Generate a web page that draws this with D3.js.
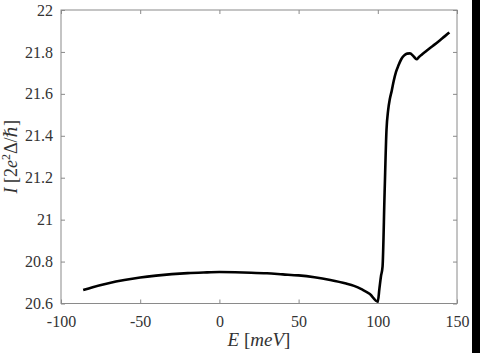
<!DOCTYPE html>
<html>
<head>
<meta charset="utf-8">
<script src="https://cdn.jsdelivr.net/npm/d3@7"></script>
<style>
  body { margin: 0; background: #fff; }
  svg { display: block; }
  text { font-family: "Times New Roman", "Liberation Serif", Tinos, "DejaVu Serif", serif; }
</style>
</head>
<body>
<svg id="chart" width="480" height="353"></svg>
<script>
// energy (meV) and current (2e^2 Delta / hbar)
const energy = [-86, -80, -70, -60, -50, -40, -30, -20, -10, 0, 10, 20, 30, 40, 50, 60, 70, 80, 85, 90, 95, 100,
  101, 102, 103, 104.3, 105.5, 106.5, 107.6, 108.8, 110, 111.5, 113, 114.8, 116.5, 118.5, 120.3, 122.4, 124.5,
  126, 127.7, 130, 133, 136, 139.3, 142, 145.2];
const current = [20.664, 20.678, 20.697, 20.712, 20.724, 20.733, 20.740, 20.745, 20.748, 20.750, 20.749, 20.747,
  20.744, 20.739, 20.734, 20.725, 20.712, 20.695, 20.684, 20.667, 20.645, 20.609,
  20.67, 20.73, 20.776, 21.13, 21.43, 21.52, 21.575, 21.615, 21.66, 21.705, 21.735, 21.765, 21.782, 21.792, 21.793,
  21.781, 21.765, 21.776, 21.787, 21.801, 21.819, 21.836, 21.856, 21.873, 21.893];

const xTicks = [-100, -50, 0, 50, 100, 150];
const yTicks = [20.6, 20.8, 21, 21.2, 21.4, 21.6, 21.8, 22];

const serif = "\"Times New Roman\", \"Liberation Serif\", Tinos, \"DejaVu Serif\", serif";
const svg = d3.select("#chart");
const mLeft = 61, mRight = 457, mTop = 10, mBottom = 303.5;

const x = d3.scaleLinear().domain([-100, 150]).range([mLeft, mRight]);
const y = d3.scaleLinear().domain([20.6, 22]).range([mBottom, mTop]);

const axisColor = "#8a8a8a";
const labelColor = "#333";

// frame
svg.append("rect")
  .attr("x", mLeft).attr("y", mTop)
  .attr("width", mRight - mLeft).attr("height", mBottom - mTop)
  .attr("fill", "none").attr("stroke", axisColor).attr("stroke-width", 1);

const tl = 4;
const fmt = d => String(d);
const xb = svg.append("g").attr("transform", `translate(0,${mBottom})`)
  .call(d3.axisBottom(x).tickValues(xTicks).tickSizeInner(-tl).tickSizeOuter(0).tickPadding(12).tickFormat(fmt));
const xt = svg.append("g").attr("transform", `translate(0,${mTop})`)
  .call(d3.axisTop(x).tickValues(xTicks).tickSizeInner(-tl).tickSizeOuter(0).tickFormat(""));
const yl = svg.append("g").attr("transform", `translate(${mLeft},0)`)
  .call(d3.axisLeft(y).tickValues(yTicks).tickSizeInner(-tl).tickSizeOuter(0).tickPadding(8).tickFormat(fmt));
const yr = svg.append("g").attr("transform", `translate(${mRight},0)`)
  .call(d3.axisRight(y).tickValues(yTicks).tickSizeInner(-tl).tickSizeOuter(0).tickFormat(""));

[xb, xt, yl, yr].forEach(g => {
  g.attr("font-family", null);
  g.select(".domain").remove();
  g.selectAll(".tick line").attr("stroke", axisColor);
  g.selectAll(".tick text").attr("fill", labelColor)
    .attr("font-family", serif).style("font-size", "16px");
});

// curve
const pts = energy.map((e, i) => [e, current[i]]);
svg.append("path")
  .datum(pts)
  .attr("fill", "none")
  .attr("stroke", "#000")
  .attr("stroke-width", 2.6)
  .attr("stroke-linejoin", "round")
  .attr("d", d3.line().x(d => x(d[0])).y(d => y(d[1])).curve(d3.curveMonotoneX));

// x title
const xTitle = svg.append("text")
  .attr("x", (mLeft + mRight) / 2).attr("y", 346)
  .attr("text-anchor", "middle").attr("fill", labelColor)
  .style("font-size", "19px");
xTitle.append("tspan").attr("font-style", "italic").text("E");
xTitle.append("tspan").text(" [");
xTitle.append("tspan").attr("font-style", "italic").text("meV");
xTitle.append("tspan").text("]");

// y title
const yTitle = svg.append("text")
  .attr("transform", `translate(17,${(mTop + mBottom) / 2}) rotate(-90)`)
  .attr("text-anchor", "middle").attr("fill", labelColor)
  .style("font-size", "18px");
yTitle.append("tspan").attr("font-style", "italic").text("I");
yTitle.append("tspan").text(" [2");
yTitle.append("tspan").attr("font-style", "italic").text("e");
yTitle.append("tspan").style("font-size", "12px").attr("dy", -7).text("2");
yTitle.append("tspan").attr("dy", 7).text("Δ/");
yTitle.append("tspan").attr("font-style", "italic").text("ℏ");
yTitle.append("tspan").text("]");

// dark strip at the right edge of the picture
svg.append("rect").attr("x", 472).attr("y", 0).attr("width", 8).attr("height", 353).attr("fill", "#000");
</script>
</body>
</html>
